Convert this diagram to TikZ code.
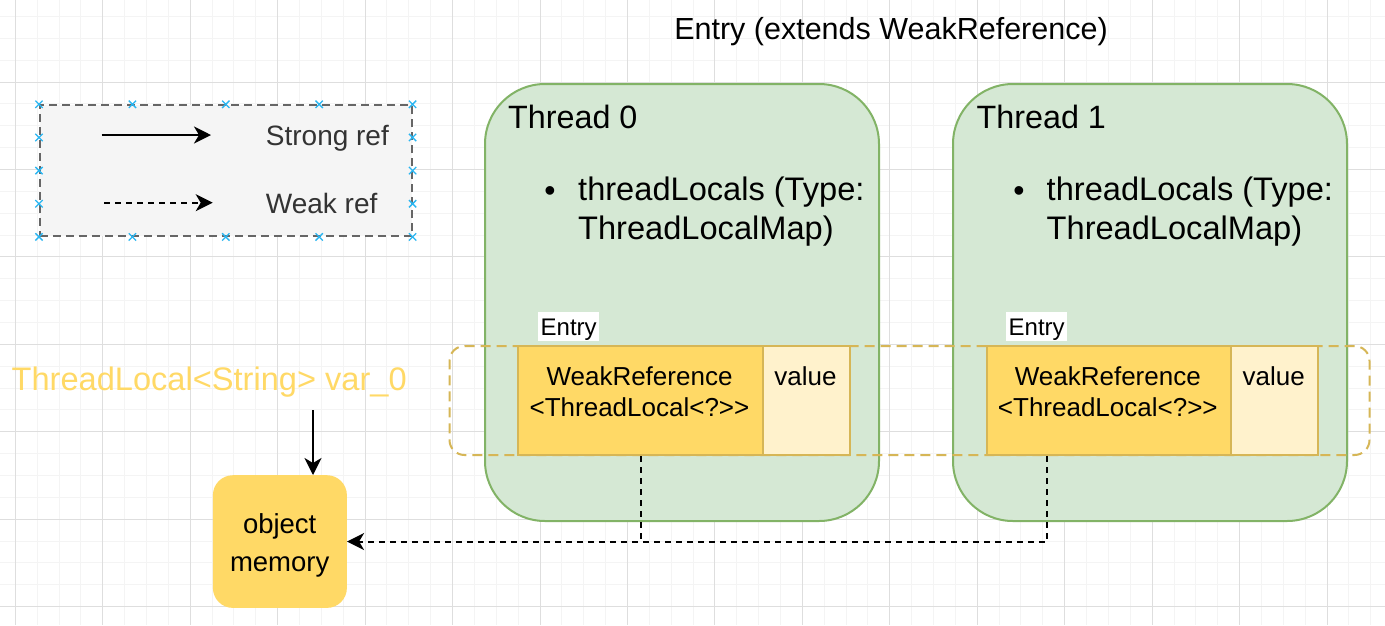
\documentclass[tikz,border=0pt]{standalone}
\usepackage{fontspec}
\setmainfont{Liberation Sans}
\usetikzlibrary{arrows.meta,calc,shapes.misc}
\definecolor{gridminor}{HTML}{F4F4F4}
\definecolor{gridmajor}{HTML}{DEDEDE}
\definecolor{greenfill}{HTML}{D5E8D4}
\definecolor{greenline}{HTML}{82B366}
\definecolor{yfill}{HTML}{FFD966}
\definecolor{yline}{HTML}{D6B656}
\definecolor{ylight}{HTML}{FFF2CC}
\definecolor{legfill}{HTML}{F5F5F5}
\definecolor{legline}{HTML}{666666}
\definecolor{handle}{HTML}{29B6F2}
\definecolor{darktext}{HTML}{333333}
\begin{document}
\begin{tikzpicture}[x=1pt,y=-1pt,
  fs/.style={font=\fontsize{#1}{#1}\selectfont},
  txt/.style={inner sep=0pt},
  tipstyle/.style={-{Stealth[length=17pt,width=17pt,inset=5pt]}},
  strongline/.style={draw=black,line width=2pt,tipstyle},
  weakline/.style={draw=black,line width=2pt,dash pattern=on 6pt off 5pt},
  threadbox/.style={draw=greenline,fill=greenfill,line width=2pt,rounded corners=60pt,anchor=north west,minimum width=394pt,minimum height=437pt,inner sep=0pt},
  wrcell/.style={draw=yline,fill=yfill,line width=2pt,anchor=north west,minimum height=109pt,inner sep=0pt},
  valcell/.style={draw=yline,fill=ylight,line width=2pt,anchor=north west,minimum height=109pt,inner sep=0pt},
  entrylabel/.style={fill=white,fs=24,inner xsep=2.5pt,inner ysep=1.5pt,text height=22pt,text depth=4pt,anchor=base west},
  hmark/.style={cross out,draw=handle,line width=1.3pt,minimum size=6pt,inner sep=0pt}
]
\useasboundingbox (0,0) rectangle (1385,625);
\fill[white] (0,0) rectangle (1385,625);
% grid
\foreach \i in {0,...,64} \draw[gridminor,line width=1pt] ({-6.56+21.8625*\i},0) -- ({-6.56+21.8625*\i},625);
\foreach \i in {0,...,29} \draw[gridminor,line width=1pt] (0,{-5.45+21.8625*\i}) -- (1385,{-5.45+21.8625*\i});
\foreach \j in {0,...,15} \draw[gridmajor,line width=1pt] ({15.3+87.45*\j},0) -- ({15.3+87.45*\j},625);
\foreach \j in {1,...,7} \draw[gridmajor,line width=1pt] (0,{-5.45+87.45*\j}) -- (1385,{-5.45+87.45*\j});

% title
\node[txt,fs=30.5,anchor=base] (title) at (891,39.3) {Entry (extends WeakReference)};

% legend
\node[draw=legline,fill=legfill,line width=1.6pt,dash pattern=on 8pt off 5pt,anchor=north west,minimum width=372pt,minimum height=131pt,inner sep=0pt] (leg) at (39,104.3) {};
\coordinate (s1) at (101.7,135);
\coordinate (s2) at (211,135);
\draw[strongline] (s1) -- (s2);
\coordinate (k1) at (104,202.7);
\coordinate (k2) at (212.7,202.7);
\draw[weakline,tipstyle] (k1) -- (k2);
\node[txt,fs=28,text=darktext,anchor=base west] (strongtxt) at (265.7,145) {Strong ref};
\node[txt,fs=28,text=darktext,anchor=base west] (weaktxt) at (265.7,213.3) {Weak ref};
\foreach \i in {0,...,4} {
  \node[hmark] (ht\i) at ($(leg.north west)!\i/4!(leg.north east)$) {};
  \node[hmark] (hb\i) at ($(leg.south west)!\i/4!(leg.south east)$) {};
}
\foreach \i in {1,...,3} {
  \node[hmark] (hl\i) at ($(leg.north west)!\i/4!(leg.south west)$) {};
  \node[hmark] (hr\i) at ($(leg.north east)!\i/4!(leg.south east)$) {};
}

% threads
\node[threadbox] (t0) at (484,83) {};
\node[threadbox] (t1) at (952,83) {};
\node[txt,fs=32.3,anchor=base west] (t0name) at (508,128.3) {Thread 0};
\node[txt,fs=32.3,anchor=base west] (t1name) at (976.5,128.3) {Thread 1};
\node[txt,fs=32,anchor=base] (t0bul) at (550,201) {•};
\node[txt,fs=32,anchor=base] (t1bul) at (1019,201) {•};
\node[txt,fs=32.6,anchor=base west] (t0l1) at (578,200.5) {threadLocals (Type:};
\node[txt,fs=32.6,anchor=base west] (t0l2) at (578,239.5) {ThreadLocalMap)};
\node[txt,fs=32.6,anchor=base west] (t1l1) at (1046.5,200.5) {threadLocals (Type:};
\node[txt,fs=32.6,anchor=base west] (t1l2) at (1046.5,239.5) {ThreadLocalMap)};

% dashed group of entries
\node[draw=yline,line width=2pt,dash pattern=on 10pt off 6pt,rounded corners=15pt,anchor=north west,minimum width=920pt,minimum height=109pt,inner sep=0pt] (entries) at (448.5,345) {};

% entry cells
\node[wrcell,minimum width=245pt] (wr0) at (517,345) {};
\node[valcell,minimum width=87pt] (val0) at (762,345) {};
\node[wrcell,minimum width=244.3pt] (wr1) at (985.7,345) {};
\node[valcell,minimum width=87.3pt] (val1) at (1230,345) {};
\node[txt,fs=26,anchor=base] (wr0a) at (639.5,385) {WeakReference};
\node[txt,fs=26,anchor=base] (wr0b) at (639.5,416.7) {<ThreadLocal<?>\kern0pt>};
\node[txt,fs=26,anchor=base] (val0t) at (805.5,385) {value};
\node[txt,fs=26,anchor=base] (wr1a) at (1107.8,385) {WeakReference};
\node[txt,fs=26,anchor=base] (wr1b) at (1107.8,416.7) {<ThreadLocal<?>\kern0pt>};
\node[txt,fs=26,anchor=base] (val1t) at (1273.7,385) {value};
\node[entrylabel] (e0) at (538,335) {Entry};
\node[entrylabel] (e1) at (1006,335) {Entry};

% ThreadLocal var and object memory
\node[txt,fs=32.6,text=yfill,anchor=base] (var) at (209.2,390) {ThreadLocal<String> var\_0};
\node[fill=yfill,rounded corners=20pt,anchor=north west,minimum width=134pt,minimum height=132.7pt,inner sep=0pt] (obj) at (212.7,475) {};
\node[txt,fs=27.5,anchor=base] (obj1) at (279.7,533.3) {object};
\node[txt,fs=27.5,anchor=base] (obj2) at (279.7,571.7) {memory};

\coordinate (v) at (313,410);
\draw[strongline] (v) -- (v |- obj.north);

% weak references
\coordinate (w1) at ($(wr1.south west)!0.25!(wr1.south east)$);
\coordinate (jn) at (wr0.south |- obj.east);
\draw[weakline] (w1) |- (jn);
\draw[weakline,tipstyle] (wr0.south) |- (obj.east);
\end{tikzpicture}
\end{document}
